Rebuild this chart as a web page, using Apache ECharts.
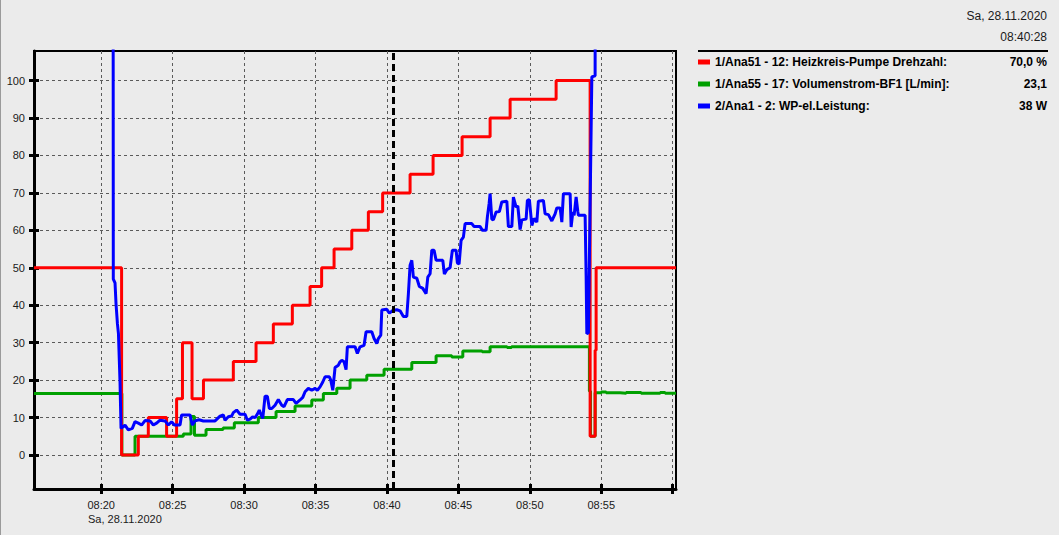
<!DOCTYPE html>
<html><head><meta charset="utf-8">
<script src="https://cdn.jsdelivr.net/npm/echarts@6/dist/echarts.min.js"></script>
<style>html,body{margin:0;padding:0;background:#ebebeb;overflow:hidden}#c{width:1059px;height:535px}</style>
</head><body><div id="c"></div>
<script>
// ---- texts ----
const seriesNames = ['1/Ana51 - 12: Heizkreis-Pumpe Drehzahl:', '1/Ana55 - 17: Volumenstrom-BF1 [L/min]:', '2/Ana1 - 2: WP-el.Leistung:'];
const seriesValues = ['70,0 %', '23,1', '38 W'];
const seriesColors = ['#ff0000', '#00a000', '#0000ff'];
const headerDate = 'Sa, 28.11.2020';
const headerTime = '08:40:28';

// ---- axes (x in minutes after 08:00) ----
const X_MIN = 15.30, X_MAX = 60.23;
const Y_MIN = -9.08, Y_MAX = 107.9;
const xTickMinutes = [20, 25, 30, 35, 40, 45, 50, 55, 60];
const xLabelMinutes = [20, 25, 30, 35, 40, 45, 50, 55];
const xTickLabels = ['08:20', '08:25', '08:30', '08:35', '08:40', '08:45', '08:50', '08:55'];
const yTicks = [0, 10, 20, 30, 40, 50, 60, 70, 80, 90, 100];
const cursorMinute = 40.467; // 08:40:28

// ---- series: [minute after 08:00, value] ----
const redData = [[15.30,50],[21.43,0],[22.60,5],[23.30,10],[24.58,5],[25.28,15],[25.69,30],[26.36,15],[27.16,20],[29.25,25],[30.84,30],[32.05,35],[33.38,40],[34.62,45],[35.43,50],[36.30,55],[37.54,60],[38.70,65],[39.70,70],[41.62,75],[43.23,80],[45.26,85],[47.22,90],[48.62,95],[51.84,100],[54.22,5],[54.57,28],[54.64,50],[60.23,50]];

const greenData = [[15.30,16.4],[21.45,0],[22.37,5],[25.75,5.6],[26.29,10.3],[26.53,5.3],[27.34,6.8],[28.53,7.2],[29.32,8.6],[31.00,10.0],[32.24,11.6],[33.57,13.1],[34.74,14.7],[35.55,16.4],[36.49,17.8],[37.42,20.0],[38.59,21.3],[39.80,22.9],[41.74,24.7],[43.44,26.5],[44.54,26.2],[45.31,27.8],[46.66,27.6],[47.22,28.9],[48.41,28.7],[48.72,28.9],[54.17,17],[54.25,5],[54.57,16.6],[54.99,16.8],[55.34,16.6],[56.32,16.5],[56.74,16.7],[57.79,16.5],[59.12,16.7],[59.47,16.5],[60.23,16.5]];

const blueData = [[15.30,400],[20.80,400],[20.85,47],[20.97,46],[21.04,40.4],[21.14,35],[21.21,32.4],[21.32,19.5],[21.39,7.1],[21.67,8],[21.90,6.7],[22.18,7.1],[22.37,8.9],[22.60,8.5],[22.83,8.0],[23.07,9.2],[23.42,9.1],[23.65,8.0],[23.88,8.5],[24.12,9.3],[24.47,9.1],[24.70,8.0],[24.93,8.9],[25.12,8.0],[25.52,8.0],[25.63,10.7],[26.22,10.7],[26.38,8.0],[26.57,9.1],[26.85,9.4],[27.15,9.1],[27.97,9.1],[28.32,10.4],[28.55,10.7],[28.67,9.3],[28.90,10.2],[29.13,10.4],[29.25,11.3],[29.48,12.0],[29.72,10.9],[30.07,10.9],[30.23,9.3],[30.42,9.6],[30.60,10.2],[30.77,10.0],[30.93,10.9],[31.07,12.0],[31.17,10.9],[31.31,9.8],[31.47,15.7],[31.63,15.7],[31.77,12.4],[31.94,12.4],[32.17,13.3],[32.40,14.8],[32.64,13.3],[32.80,12.9],[33.03,14.8],[33.45,14.8],[33.64,13.8],[33.92,14.7],[34.11,15.4],[34.27,16.9],[34.50,17.8],[34.74,17.3],[34.97,17.8],[35.13,17.3],[35.32,18.2],[35.51,19.5],[35.67,20.9],[35.97,20.9],[36.07,20.0],[36.21,17.3],[36.37,23.4],[36.60,24.0],[36.72,24.9],[36.84,25.3],[37.00,24.9],[37.14,22.8],[37.23,28.9],[37.77,28.9],[37.93,27.1],[38.12,28.9],[38.40,29.3],[38.54,32.9],[38.94,32.9],[39.10,31.1],[39.29,29.8],[39.40,31.1],[39.57,32.0],[39.64,38.7],[39.99,38.9],[40.17,37.9],[40.41,38.6],[40.69,38.8],[40.92,38.5],[41.15,37.0],[41.39,37.0],[41.50,43.0],[41.62,50.7],[41.74,52.0],[41.85,47.5],[42.09,47.2],[42.27,45.0],[42.51,44.5],[42.74,43.1],[42.86,47.5],[43.02,48.4],[43.14,54.7],[43.30,54.7],[43.44,52.0],[43.91,52.0],[44.02,48.3],[44.19,49.5],[44.42,50.0],[44.58,54.7],[44.84,54.7],[44.93,51.3],[45.05,51.0],[45.19,57.3],[45.35,58.2],[45.47,61.8],[45.94,61.8],[46.10,61.0],[46.52,61.0],[46.68,60.0],[46.94,60.0],[47.03,63.6],[47.15,67.1],[47.22,69.8],[47.34,63.0],[47.45,62.8],[47.64,64.9],[47.87,65.0],[48.04,67.6],[48.39,67.8],[48.50,61.0],[48.74,61.0],[48.85,68.9],[49.04,66.2],[49.16,66.5],[49.32,60.2],[49.44,62.8],[49.74,63.0],[49.83,68.0],[49.97,68.2],[50.14,61.3],[50.30,63.2],[50.49,62.2],[50.60,67.8],[50.95,68.0],[51.07,64.4],[51.30,64.2],[51.54,62.5],[51.77,64.4],[51.89,66.0],[52.12,66.0],[52.24,62.2],[52.35,69.8],[52.82,69.8],[52.89,60.9],[53.01,64.9],[53.10,64.0],[53.24,68.9],[53.36,65.0],[53.40,64.0],[53.87,64.0],[53.94,48.0],[53.99,32.4],[54.10,32.6],[54.22,67.0],[54.34,101.0],[54.57,101.3],[54.62,400],[60.23,400]];

// ---- chart ----
const FONT = '"Liberation Sans", Arial, sans-serif';
const TEXT = '#1a1a1a';
const chart = echarts.init(document.getElementById('c'), null, {renderer: 'svg'});

const dashedGrid = {show: true, lineStyle: {color: '#5a5a5a', type: [3, 3], width: 1}};
const legendTop = 55, rowStep = 22;

const option = {
  backgroundColor: '#ebebeb',
  animation: false,
  grid: {left: 34, right: 383, top: 51, bottom: 46, show: true, borderColor: '#000', borderWidth: 2, backgroundColor: 'transparent'},
  legend: {
    data: seriesNames, orient: 'vertical', left: 698, top: legendTop, padding: 0, itemGap: rowStep - 14,
    icon: 'rect', itemWidth: 12, itemHeight: 5, selectedMode: false,
    textStyle: {fontFamily: FONT, fontSize: 12, fontWeight: 'bold', color: '#000', lineHeight: 14}
  },
  xAxis: [{
    type: 'value', min: X_MIN, max: X_MAX, position: 'bottom',
    axisLine: {show: true, onZero: false, lineStyle: {color: '#000', width: 3}},
    axisTick: {show: true, customValues: xTickMinutes, length: 5, lineStyle: {color: '#000', width: 3}},
    axisLabel: {customValues: xLabelMinutes, formatter: v => xTickLabels[xLabelMinutes.indexOf(v)], fontFamily: FONT, fontSize: 11, color: TEXT, margin: 10},
    splitLine: dashedGrid
  }, {
    type: 'value', min: X_MIN, max: X_MAX, position: 'bottom',
    axisLine: {show: false, onZero: false}, axisLabel: {show: false}, splitLine: {show: false},
    axisTick: {show: true, inside: true, customValues: xTickMinutes, length: 5, lineStyle: {color: '#000', width: 3}}
  }],
  yAxis: [{
    type: 'value', min: Y_MIN, max: Y_MAX, position: 'left',
    axisLine: {show: true, onZero: false, lineStyle: {color: '#000', width: 3}},
    axisTick: {show: true, customValues: yTicks, length: 5, lineStyle: {color: '#000', width: 3}},
    axisLabel: {customValues: yTicks, fontFamily: FONT, fontSize: 11, color: TEXT, margin: 9},
    splitLine: dashedGrid
  }, {
    type: 'value', min: Y_MIN, max: Y_MAX, position: 'left',
    axisLine: {show: false, onZero: false}, axisLabel: {show: false}, splitLine: {show: false},
    axisTick: {show: true, inside: true, customValues: yTicks, length: 5, lineStyle: {color: '#000', width: 3}}
  }],
  series: [
    {name: seriesNames[1], type: 'line', data: greenData, step: 'end', symbol: 'none', z: 2,
     lineStyle: {color: seriesColors[1], width: 3}, itemStyle: {color: seriesColors[1]},
     markLine: {silent: true, symbol: 'none', label: {show: false}, animation: false,
       lineStyle: {color: '#000', width: 3, type: [7, 4]}, data: [{xAxis: cursorMinute}]}},
    {name: seriesNames[0], type: 'line', data: redData, step: 'end', symbol: 'none', z: 3,
     lineStyle: {color: seriesColors[0], width: 3}, itemStyle: {color: seriesColors[0]}},
    {name: seriesNames[2], type: 'line', data: blueData, symbol: 'none', z: 4,
     lineStyle: {color: seriesColors[2], width: 3}, itemStyle: {color: seriesColors[2]}}
  ],
  graphic: [
    {type: 'line', shape: {x1: 0.5, y1: 0, x2: 0.5, y2: 535}, style: {stroke: '#9a9a9a', lineWidth: 1}},
    {type: 'text', right: 12, top: 10, style: {text: headerDate, font: '12px ' + FONT, fill: TEXT}},
    {type: 'text', right: 12, top: 31, style: {text: headerTime, font: '12px ' + FONT, fill: TEXT}},
    {type: 'line', shape: {x1: 698, y1: 51, x2: 1048, y2: 51}, style: {stroke: '#000', lineWidth: 2}},
    {type: 'text', left: 88, top: 513, style: {text: headerDate, font: '11px ' + FONT, fill: TEXT}}
  ].concat(seriesValues.map((v, i) => ({
    type: 'text', right: 12, top: legendTop + 1 + i * rowStep, style: {text: v, font: 'bold 12px ' + FONT, fill: '#000'}
  })))
};
chart.setOption(option);
</script>
</body></html>
